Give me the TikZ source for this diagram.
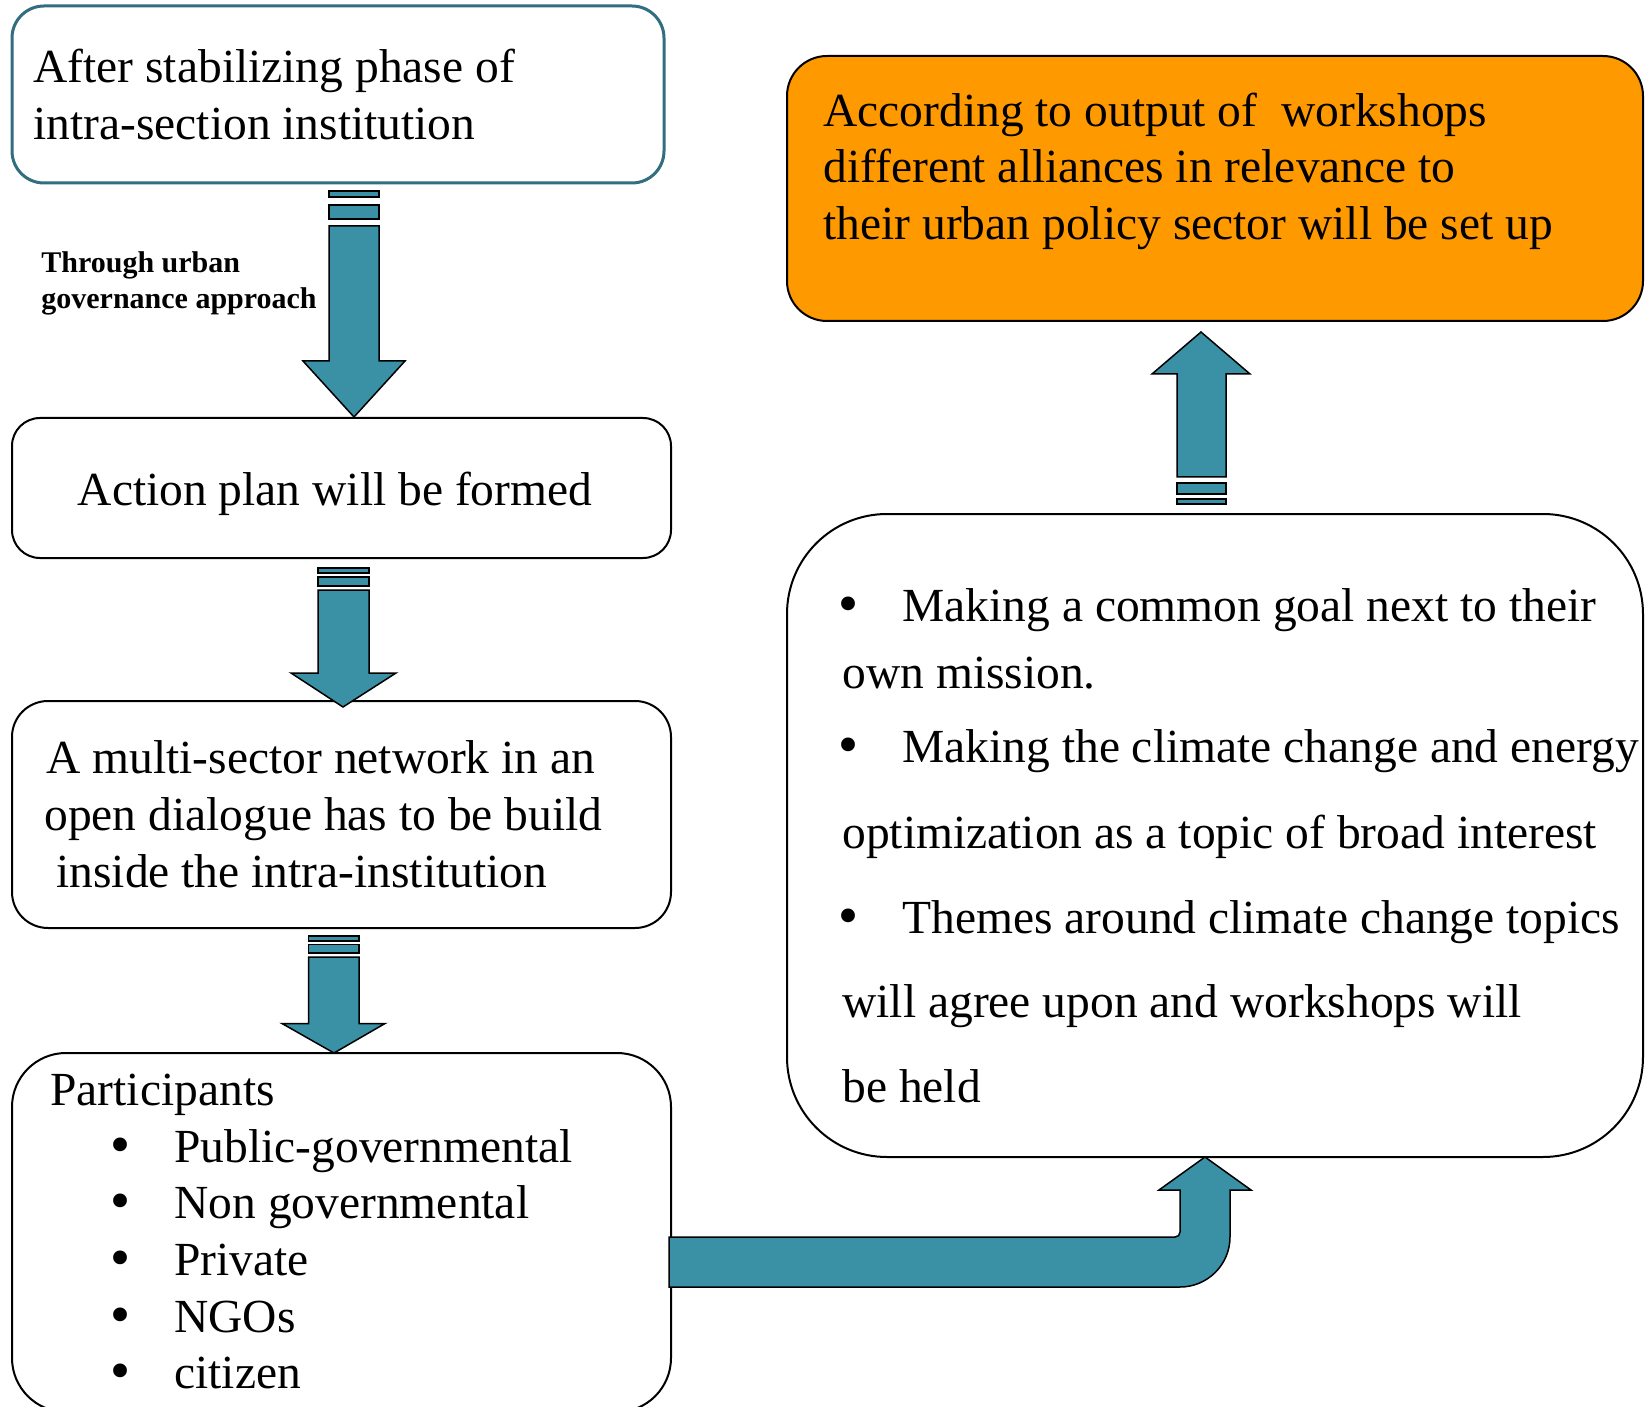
\documentclass[tikz,border=0pt]{standalone}
\usepackage{fontspec}
\setmainfont{Liberation Serif}
\newfontfamily\bulfont{DejaVu Sans}
\definecolor{tealline}{RGB}{49,110,128}
\definecolor{arrowfill}{RGB}{58,145,166}
\definecolor{orangefill}{RGB}{255,153,0}
\newcommand{\bigbul}{{\bulfont •}}
\begin{document}
\begin{tikzpicture}[x=0.5pt,y=-0.5pt,
  box/.style={draw=black, line width=1pt, fill=white, inner sep=0pt, outer sep=0pt, shape=rectangle},
  txt/.style={anchor=base west, inner sep=0pt, font=\fontsize{23.75pt}{28.5pt}\selectfont},
  ctxt/.style={anchor=base, inner sep=0pt, font=\fontsize{23.75pt}{28.5pt}\selectfont},
  lbl/.style={anchor=base west, inner sep=0pt, font=\fontsize{15pt}{18pt}\selectfont\bfseries},
  barrow/.style={fill=arrowfill, draw=black, line width=0.75pt, line join=miter}]
\clip (0,0) rectangle (1651,1407);
\fill[white] (0,0) rectangle (1651,1407);

% boxes
\node[box, draw=tealline, line width=1.5pt, rounded corners=16pt, minimum width=326pt, minimum height=88.5pt] (b1) at (338,94.5) {};
\node[box, rounded corners=14pt, minimum width=329.5pt, minimum height=70pt] (b2) at (341.5,488) {};
\node[box, rounded corners=18pt, minimum width=329.5pt, minimum height=113.5pt] (b3) at (341.5,814.5) {};
\node[box, rounded corners=27pt, minimum width=329.5pt, minimum height=179.5pt] (b4) at (341.5,1232.5) {};
\node[box, fill=orangefill, rounded corners=20pt, minimum width=428pt, minimum height=132.5pt] (b6) at (1215,188.5) {};
\node[box, rounded corners=50pt, minimum width=428pt, minimum height=321.5pt] (b5) at (1215,835.5) {};

% box 1 text
\node[txt] (t1a) at (33,83) {After stabilizing phase of};
\node[txt] (t1b) at (33,140) {intra-section institution};
% label
\node[lbl] (l1) at (41,273) {Through urban};
\node[lbl] (l2) at (41,309) {governance approach};
% box 2 text
\node[ctxt] (t2) at (335,506) {Action plan will be formed};
% box 3 text
\node[txt] (t3a) at (46,773) {A multi-sector network in an};
\node[txt] (t3b) at (44,830) {open dialogue has to be build};
\node[txt] (t3c) at (56,887) {inside the intra-institution};
% box 4 text
\node[txt] (t4) at (50,1105) {Participants};
\foreach \y/\s [count=\i] in {1162/Public-governmental,1218/Non governmental,1275/Private,1332/NGOs,1388/citizen}{
  \node[ctxt] (bu\i) at (121,\y) {\bigbul};
  \node[txt] (it\i) at (174,\y) {\s};
}
% orange box text
\node[txt] (t6a) at (823,127) {According to output of \ workshops};
\node[txt] (t6b) at (823,183) {different alliances in relevance to};
\node[txt] (t6c) at (823,240) {their urban policy sector will be set up};
% box 5 text
\node[ctxt] (r1) at (849,621) {\bigbul};
\node[txt] (r1t) at (902,621) {Making a common goal next to their};
\node[txt] (r2t) at (842,688) {own mission.};
\node[ctxt] (r3) at (849,762) {\bigbul};
\node[txt] (r3t) at (902,762) {Making the climate change and energy};
\node[txt] (r4t) at (842,848) {optimization as a topic of broad interest};
\node[ctxt] (r5) at (849,933) {\bigbul};
\node[txt] (r5t) at (902,933) {Themes around climate change topics};
\node[txt] (r6t) at (842,1017) {will agree upon and workshops will};
\node[txt] (r7t) at (842,1102) {be held};

% arrow 1 (b1 -> b2)
\draw[barrow] (329,191) rectangle (379,197);
\draw[barrow] (329,205) rectangle (379,219);
\draw[barrow] (329,226) -- (379,226) -- (379,361) -- (405,361) -- (354,417) -- (303,361) -- (329,361) -- cycle;
% arrow 2 (b2 -> b3)
\draw[barrow] (318,568) rectangle (369,573);
\draw[barrow] (318,577) rectangle (369,586);
\draw[barrow] (318,590) -- (369,590) -- (369,673) -- (396,673) -- (343,707) -- (291,673) -- (318,673) -- cycle;
% arrow 3 (b3 -> b4)
\draw[barrow] (308.5,936) rectangle (359,941);
\draw[barrow] (308.5,944.5) rectangle (359,953);
\draw[barrow] (308.5,957) -- (359,957) -- (359,1023.5) -- (385,1023.5) -- (334,1053) -- (282,1023.5) -- (308.5,1023.5) -- cycle;
% arrow 4 (b4 -> b5), bent
\draw[barrow] (669,1237) -- (1175,1237) .. controls (1178,1237) and (1180,1235) .. (1180,1232)
  -- (1180,1190) -- (1159,1190) -- (1205,1157) -- (1251,1190) -- (1230,1190) -- (1230,1237)
  .. controls (1230,1264.6) and (1207.6,1287) .. (1180,1287) -- (669,1287) -- cycle;
% arrow 5 (b5 -> b6), up
\draw[barrow] (1177,499) rectangle (1226,504);
\draw[barrow] (1177,483) rectangle (1226,494);
\draw[barrow] (1177,477) -- (1226,477) -- (1226,374) -- (1250,374) -- (1201,332) -- (1152,374) -- (1177,374) -- cycle;
\end{tikzpicture}
\end{document}
